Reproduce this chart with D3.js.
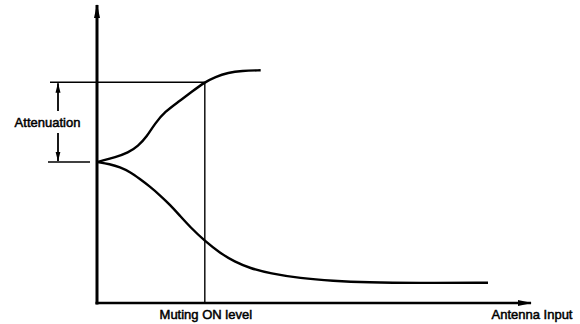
<!DOCTYPE html>
<html>
<head>
<meta charset="utf-8">
<script src="https://cdn.jsdelivr.net/npm/d3@7"></script>
<style>
html,body{margin:0;padding:0;background:#fff;}
svg{display:block;}
text{font-family:"Liberation Sans",Arial,sans-serif;font-size:13px;fill:#000;stroke:#000;stroke-width:0.5px;}
</style>
</head>
<body>
<svg id="chart" width="580" height="324"></svg>
<script>
// ---- data ----
const xAxisLabel = "Antenna Input";
const markerLabel = "Muting ON level";
const bracketLabel = "Attenuation";
const mutingLevel = 24.9;          // antenna input at which muting turns on
const attenuationTop = 74.1;       // level reached at muting ON
const attenuationBase = 47.3;      // starting level
const upperX = [0, 1.1, 4.2, 7.2, 9.5, 11.5, 13.4, 15.7, 18.8, 21.9, 24.9, 27.3, 30.3, 33.4, 37.8];
const upperY = [47.3, 47.7, 48.9, 50.4, 52.7, 55.8, 60.3, 64.2, 67.5, 70.9, 74.1, 75.9, 77.3, 77.9, 78.1];
const lowerX = [0, 3.0, 5.3, 7.6, 9.9, 12.2, 14.5, 16.9, 19.2, 21.5, 24.9, 28.4, 31.8, 35.3, 40.0, 46.9, 54.5, 62.4, 73.9, 90.3];
const lowerY = [47.3, 46.6, 45.6, 44.0, 41.6, 39.1, 36.2, 32.9, 29.2, 25.5, 20.8, 16.8, 13.8, 11.7, 9.9, 8.3, 7.4, 6.9, 6.7, 6.8];

// ---- layout ----
const svg = d3.select("#chart");
const x = d3.scaleLinear().domain([0, 100]).range([97, 530]);
const y = d3.scaleLinear().domain([0, 100]).range([303, 5]);

const defs = svg.append("defs");
defs.append("marker").attr("id", "axArrow")
  .attr("viewBox", "0 0 14 8").attr("refX", 13).attr("refY", 4)
  .attr("markerWidth", 14).attr("markerHeight", 8)
  .attr("markerUnits", "userSpaceOnUse").attr("orient", "auto")
  .append("path").attr("d", "M0,1 L14,4 L0,7 Z").attr("fill", "#000");
defs.append("marker").attr("id", "smArrow")
  .attr("viewBox", "0 0 10 6").attr("refX", 9.5).attr("refY", 3)
  .attr("markerWidth", 10).attr("markerHeight", 6)
  .attr("markerUnits", "userSpaceOnUse").attr("orient", "auto")
  .append("path").attr("d", "M0,0.5 L10,3 L0,5.5 Z").attr("fill", "#000");

// reference lines
const xm = x(mutingLevel), yt = y(attenuationTop), yb = y(attenuationBase);
svg.append("line").attr("x1", x(0) - 47).attr("x2", xm).attr("y1", yt).attr("y2", yt)
  .attr("stroke", "#000").attr("stroke-width", 1.6);
svg.append("line").attr("x1", x(0) - 49).attr("x2", x(0) - 7).attr("y1", yb).attr("y2", yb)
  .attr("stroke", "#000").attr("stroke-width", 1.6);
svg.append("line").attr("x1", xm).attr("x2", xm).attr("y1", yt).attr("y2", y(0))
  .attr("stroke", "#000").attr("stroke-width", 1.4);

// attenuation bracket arrows
const ax = x(0) - 39;
const yMid = (yt + yb) / 2;
svg.append("line").attr("x1", ax).attr("x2", ax).attr("y1", yMid - 11).attr("y2", yt + 1)
  .attr("stroke", "#000").attr("stroke-width", 1.8).attr("marker-end", "url(#smArrow)");
svg.append("line").attr("x1", ax).attr("x2", ax).attr("y1", yMid + 11).attr("y2", yb - 1)
  .attr("stroke", "#000").attr("stroke-width", 1.8).attr("marker-end", "url(#smArrow)");
svg.append("text").attr("x", x(0) - 49.5).attr("y", yMid + 4.5)
  .attr("text-anchor", "middle").text(bracketLabel);

// axes
svg.append("line").attr("x1", x(0)).attr("x2", x(0)).attr("y1", y(0) + 1.5).attr("y2", y(100))
  .attr("stroke", "#000").attr("stroke-width", 3).attr("marker-end", "url(#axArrow)");
svg.append("line").attr("x1", x(0) - 1.5).attr("x2", x(100) + 1).attr("y1", y(0)).attr("y2", y(0))
  .attr("stroke", "#000").attr("stroke-width", 2.6).attr("marker-end", "url(#axArrow)");

// curves
const line = d3.line().x(d => x(d[0])).y(d => y(d[1])).curve(d3.curveBasis);
svg.append("path").datum(d3.zip(upperX, upperY)).attr("d", line)
  .attr("fill", "none").attr("stroke", "#000").attr("stroke-width", 2.4);
svg.append("path").datum(d3.zip(lowerX, lowerY)).attr("d", line)
  .attr("fill", "none").attr("stroke", "#000").attr("stroke-width", 2.4);

// labels
svg.append("text").attr("x", xm + 1).attr("y", 319).attr("text-anchor", "middle").text(markerLabel);
svg.append("text").attr("x", x(100) + 2).attr("y", 319).attr("text-anchor", "middle").text(xAxisLabel);
</script>
</body>
</html>
